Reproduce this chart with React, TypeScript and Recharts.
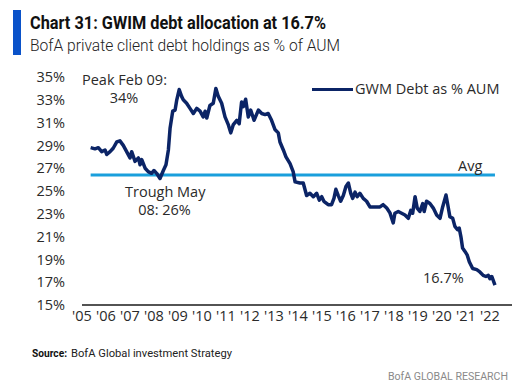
import { LineChart, Line, XAxis, YAxis, ReferenceLine } from 'recharts'

// decimal year of each reading
const dates = [
  2005.36, 2005.54, 2005.68, 2005.82, 2005.96, 2006.03, 2006.17, 2006.30, 2006.45, 2006.58,
  2006.72, 2006.86, 2007.00, 2007.07, 2007.21, 2007.35, 2007.42, 2007.49, 2007.63, 2007.76,
  2007.90, 2008.00, 2008.11, 2008.25, 2008.39, 2008.50, 2008.60, 2008.67, 2008.78, 2008.88,
  2008.95, 2009.05, 2009.15, 2009.22, 2009.29, 2009.36, 2009.50, 2009.64, 2009.78, 2009.92,
  2010.05, 2010.13, 2010.20, 2010.33, 2010.47, 2010.58, 2010.68, 2010.82, 2010.96, 2011.10,
  2011.20, 2011.30, 2011.45, 2011.55, 2011.65, 2011.72, 2011.82, 2011.93, 2012.03, 2012.17,
  2012.35, 2012.49, 2012.63, 2012.76, 2012.90, 2013.04, 2013.18, 2013.25, 2013.39, 2013.50,
  2013.67, 2013.80, 2013.88, 2014.08, 2014.22, 2014.36, 2014.50, 2014.64, 2014.78, 2014.89,
  2014.99, 2015.08, 2015.26, 2015.40, 2015.50, 2015.58, 2015.68, 2015.78, 2015.89, 2016.00,
  2016.10, 2016.20, 2016.28, 2016.38, 2016.47, 2016.58, 2016.72, 2016.86, 2017.00, 2017.14,
  2017.42, 2017.55, 2017.70, 2017.83, 2017.97, 2018.04, 2018.18, 2018.32, 2018.46, 2018.60,
  2018.70, 2018.78, 2018.88, 2018.97, 2019.08, 2019.20, 2019.26, 2019.36, 2019.50, 2019.64,
  2019.78, 2019.92, 2020.03, 2020.17, 2020.26, 2020.33, 2020.45, 2020.54, 2020.65, 2020.72,
  2020.79, 2020.86, 2020.96, 2021.05, 2021.14, 2021.28, 2021.45, 2021.58, 2021.72, 2021.83,
  2021.93, 2022.00, 2022.08, 2022.21,
]

// GWM debt as % of AUM
const debtPct = [
  28.8, 28.7, 28.8, 28.45, 28.6, 28.2, 28.45, 28.75, 29.3, 29.4,
  29.0, 28.45, 27.9, 28.45, 27.6, 27.9, 27.3, 27.75, 27.0, 26.7,
  26.55, 26.8, 26.55, 26.1, 26.8, 27.3, 28.6, 30.5, 32.0, 32.1,
  33.0, 33.9, 33.3, 33.0, 32.85, 32.7, 32.25, 31.8, 32.25, 32.0,
  31.5, 32.0, 31.4, 32.5, 32.7, 34.0, 33.3, 32.7, 31.5, 30.8,
  30.1, 30.8, 31.2, 30.9, 32.8, 32.4, 33.05, 31.5, 32.1, 31.2,
  32.1, 31.8, 31.7, 31.8, 31.2, 30.4, 30.1, 29.3, 28.6, 28.0,
  27.4, 26.7, 25.8, 25.7, 25.7, 24.6, 24.8, 24.5, 24.8, 24.2,
  24.5, 24.1, 23.8, 23.8, 24.35, 25.15, 24.6, 24.1, 24.6, 25.4,
  25.7, 24.8, 24.35, 24.9, 24.5, 24.8, 24.35, 24.1, 23.6, 23.6,
  23.6, 23.8, 23.5, 23.1, 22.2, 23.05, 23.2, 23.05, 22.9, 22.6,
  23.3, 23.05, 24.5, 23.5, 23.2, 23.9, 23.2, 24.1, 23.9, 23.5,
  22.9, 22.6, 23.6, 24.65, 23.6, 22.75, 22.6, 21.9, 21.6, 21.75,
  21.0, 20.0, 19.7, 19.4, 18.8, 18.2, 18.1, 17.9, 17.6, 17.5,
  17.6, 17.3, 17.5, 16.75,
]

const avgLevel = 26.4
const yearTicks = [2005, 2006, 2007, 2008, 2009, 2010, 2011, 2012, 2013, 2014, 2015, 2016, 2017, 2018, 2019, 2020, 2021, 2022]
const pctTicks = [15, 17, 19, 21, 23, 25, 27, 29, 31, 33, 35]

const rows = dates.map((t, i) => ({ t, debt: debtPct[i] }))

const font = '"Open Sans", sans-serif'
const textColor = '#2a2a2a'

const note = (left: number, top: number, text: string, align: 'left' | 'center' = 'left', width?: number) => (
  <div
    style={{
      position: 'absolute', left, top, width, textAlign: align, fontFamily: font,
      fontSize: 14.5, color: textColor, lineHeight: '17px', whiteSpace: 'nowrap',
    }}
  >
    {text}
  </div>
)

export default function App() {
  return (
    <div style={{ position: 'absolute', left: 0, top: 0, width: 531, height: 385, background: '#fff', overflow: 'hidden' }}>
      <svg width={531} height={385} style={{ position: 'absolute', left: 0, top: 0 }}>
        <rect x={13} y={10} width={8} height={45} fill="#0a52c9" />
        <text x={30} y={28.5} fontFamily="Roboto, sans-serif" fontWeight={700} fontSize={18} fill="#111"
          textLength={296} lengthAdjust="spacingAndGlyphs">
          Chart 31: GWIM debt allocation at 16.7%
        </text>
        <text x={30} y={50.5} fontFamily="Roboto, sans-serif" fontWeight={300} fontSize={16} fill="#222"
          textLength={310} lengthAdjust="spacingAndGlyphs">
          BofA private client debt holdings as % of AUM
        </text>
        <text x={32} y={357} fontFamily="Roboto, sans-serif" fontWeight={700} fontSize={11.5} fill="#111"
          textLength={35} lengthAdjust="spacingAndGlyphs">
          Source:
        </text>
        <text x={71} y={357} fontFamily="Roboto, sans-serif" fontSize={11.5} fill="#222"
          textLength={161} lengthAdjust="spacingAndGlyphs">
          BofA Global investment Strategy
        </text>
        <text x={388} y={380} fontFamily="Roboto, sans-serif" fontSize={11.5} fill="#8a8a8a"
          textLength={120} lengthAdjust="spacingAndGlyphs">
          BofA GLOBAL RESEARCH
        </text>
      </svg>

      <div style={{ position: 'absolute', left: 0, top: 0 }}>
        <LineChart width={531} height={385} data={rows} margin={{ top: 77, right: 19, left: 22, bottom: 50 }}>
          <XAxis
            type="number"
            dataKey="t"
            domain={[2005, 2022.92]}
            ticks={yearTicks}
            interval={0}
            allowDataOverflow
            tickFormatter={(v: number) => "'" + String(v).slice(2)}
            tick={{ fontFamily: font, fontSize: 14.5, fill: textColor }}
            tickLine={false}
            tickSize={0}
            tickMargin={6}
            height={30}
            axisLine={{ stroke: '#1a1a1a', strokeWidth: 1.3 }}
          />
          <YAxis
            type="number"
            domain={[15, 35]}
            ticks={pctTicks}
            interval={0}
            tickFormatter={(v: number) => v + '%'}
            tick={{ fontFamily: font, fontSize: 14.5, fill: textColor }}
            axisLine={false}
            tickLine={false}
            tickSize={0}
            tickMargin={17}
            width={60}
          />
          <ReferenceLine
            segment={[{ x: dates[0], y: avgLevel }, { x: dates[dates.length - 1], y: avgLevel }]}
            stroke="#1a9fdc"
            strokeWidth={3}
          />
          <Line
            type="linear"
            dataKey="debt"
            stroke="#0b2466"
            strokeWidth={3.5}
            strokeLinejoin="round"
            dot={false}
            isAnimationActive={false}
          />
        </LineChart>
      </div>

      <div style={{ position: 'absolute', left: 312, top: 87.5, width: 41, height: 3.5, background: '#0b2466' }} />
      {note(355, 80, 'GWM Debt as % AUM')}
      {note(82, 71, 'Peak Feb 09:')}
      {note(82, 89, '34%', 'center', 84)}
      {note(125, 183, 'Trough May')}
      {note(125, 201, '08: 26%', 'center', 79)}
      {note(458, 157, 'Avg')}
      {note(423, 269, '16.7%')}
    </div>
  )
}
